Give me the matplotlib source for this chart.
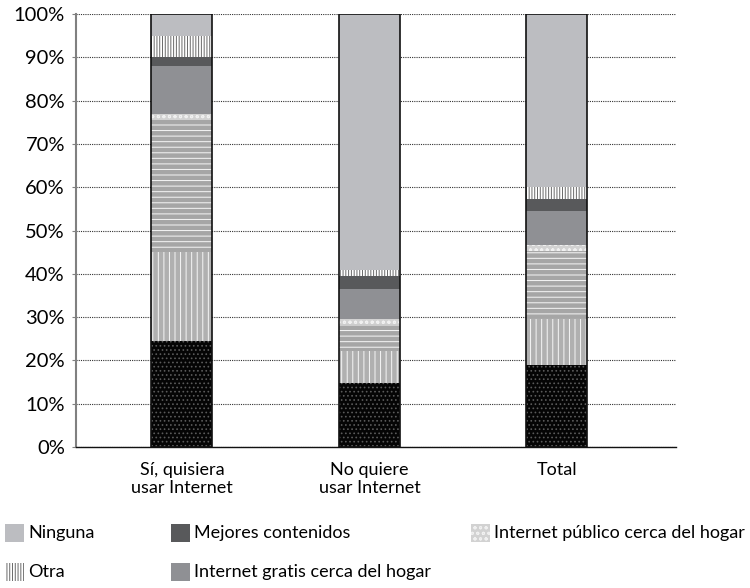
import matplotlib
matplotlib.use("Agg")
import matplotlib.pyplot as plt
from matplotlib.patches import Rectangle
import numpy as np

plt.rcParams['font.family'] = ['Lato', 'DejaVu Sans']
plt.rcParams['hatch.linewidth'] = 0.7

categories = ["Sí, quisiera\nusar Internet", "No quiere\nusar Internet", "Total"]
series_names = ["Serie 1", "Serie 2", "Serie 3",
                "Internet público cerca del hogar",
                "Internet gratis cerca del hogar",
                "Mejores contenidos", "Otra", "Ninguna"]
serie_1 = [24.5, 14.8, 18.9]
serie_2 = [20.5, 7.4, 10.7]
serie_3 = [30.5, 6.2, 15.7]
internet_publico = [1.5, 1.2, 1.3]
internet_gratis = [11.0, 6.9, 7.9]
mejores_contenidos = [2.0, 3.0, 2.8]
otra = [5.0, 1.4, 2.7]
ninguna = [5.0, 59.1, 40.0]
values = [serie_1, serie_2, serie_3, internet_publico, internet_gratis,
          mejores_contenidos, otra, ninguna]
yticks = [0, 10, 20, 30, 40, 50, 60, 70, 80, 90, 100]
ytick_labels = [f"{v}%" for v in yticks]
legend_order = ["Ninguna", "Otra", "Mejores contenidos",
                "Internet gratis cerca del hogar",
                "Internet público cerca del hogar"]

styles = {
    "Serie 1": dict(facecolor="#050505", edgecolor="#5a5a5a", hatch="...."),
    "Serie 2": dict(facecolor="#b0b0b0", edgecolor="#f6f6f6", hatch="|||"),
    "Serie 3": dict(facecolor="#a6a6a6", edgecolor="#f6f6f6", hatch="---"),
    "Internet público cerca del hogar": dict(facecolor="#d2d2d2", edgecolor="#f0f0f0", hatch="ooo"),
    "Internet gratis cerca del hogar": dict(facecolor="#8f9094", edgecolor="#8f9094", hatch=None),
    "Mejores contenidos": dict(facecolor="#58595b", edgecolor="#58595b", hatch=None),
    "Otra": dict(facecolor="#ffffff", edgecolor="#6a6a6a", hatch="||||||"),
    "Ninguna": dict(facecolor="#bcbdc1", edgecolor="#bcbdc1", hatch=None),
}

fig = plt.figure(figsize=(7.5, 5.88), dpi=100)
ax = fig.add_axes([76/750, 1-447/588, 600/750, 433/588])

x = np.arange(len(categories))
width = 0.325
bottom = np.zeros(len(categories))
for name, vals in zip(series_names, values):
    st = styles[name]
    ax.bar(x, vals, width, bottom=bottom, facecolor=st["facecolor"],
           edgecolor=st["edgecolor"], hatch=st["hatch"], linewidth=0, zorder=3)
    bottom += np.array(vals)
ax.bar(x, bottom, width, fill=False, edgecolor="#111111", linewidth=1.2, zorder=4)

ax.set_xlim(-0.565, 2.635)
ax.set_ylim(0, 100)
ax.set_yticks(yticks)
ax.set_yticklabels(ytick_labels, fontsize=14.5)
ax.set_xticks(x)
ax.set_xticklabels(categories, fontsize=13, linespacing=1.15)
ax.yaxis.grid(True, linestyle=(0, (1, 1)), color="#333333", linewidth=0.8, zorder=0)
ax.set_axisbelow(True)
for s in ["top", "right"]:
    ax.spines[s].set_visible(False)
ax.spines["left"].set_color("#808080")
ax.spines["left"].set_linewidth(1.5)
ax.spines["bottom"].set_color("#111111")
ax.spines["bottom"].set_linewidth(1.0)
ax.tick_params(axis="y", length=3, color="#808080", pad=5)
ax.tick_params(axis="x", length=0, pad=11)

# legend drawn manually
positions = {
    "Ninguna": (5, 533),
    "Otra": (5, 572),
    "Mejores contenidos": (171, 533),
    "Internet gratis cerca del hogar": (171, 572),
    "Internet público cerca del hogar": (471, 533),
}
for name in legend_order:
    px, py = positions[name]
    st = styles[name]
    r = Rectangle((px/750, 1-(py+9)/588), 19/750, 18/588, transform=fig.transFigure,
                  facecolor=st["facecolor"], edgecolor=st["edgecolor"],
                  hatch=st["hatch"], linewidth=0)
    fig.add_artist(r)
    fig.text((px+23)/750, 1-py/588, name, fontsize=13, va="center", ha="left")

fig.savefig("out.png", dpi=100)
